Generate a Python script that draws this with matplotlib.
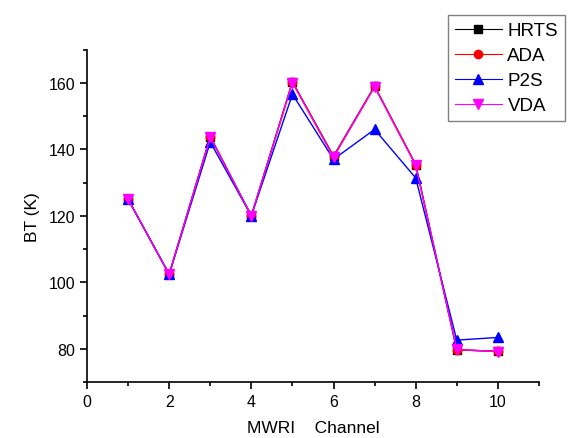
import matplotlib
matplotlib.use("Agg")
import matplotlib.pyplot as plt
from matplotlib.ticker import MultipleLocator

plt.rcParams['font.family'] = ['Liberation Sans', 'DejaVu Sans']

# data
channels = [1, 2, 3, 4, 5, 6, 7, 8, 9, 10]
hrts = [125.0, 102.4, 143.8, 120.0, 160.3, 137.9, 159.0, 135.4, 79.7, 79.2]
ada = [125.0, 102.4, 143.8, 120.0, 160.3, 137.9, 159.0, 135.4, 79.7, 79.2]
p2s = [125.0, 102.4, 142.2, 120.0, 156.6, 137.0, 146.0, 131.4, 82.6, 83.4]
vda = [125.0, 102.4, 143.6, 120.0, 160.1, 137.6, 158.8, 135.2, 79.8, 79.1]

fig = plt.figure(figsize=(5.82, 4.39), dpi=100)
ax = fig.add_axes([0.1495, 0.1276, 0.7765, 0.757])

ax.plot(channels, hrts, color='black', lw=1.0, marker='s', ms=6, label='HRTS')
ax.plot(channels, ada, color='red', lw=1.0, marker='o', ms=6, label='ADA')
ax.plot(channels, p2s, color='blue', lw=1.0, marker='^', ms=7, label='P2S')
ax.plot(channels, vda, color='magenta', lw=1.0, marker='v', ms=7, label='VDA')

ax.set_xlim(0, 11)
ax.set_ylim(70, 170)
ax.xaxis.set_major_locator(MultipleLocator(2))
ax.xaxis.set_minor_locator(MultipleLocator(1))
ax.yaxis.set_major_locator(MultipleLocator(20))
ax.yaxis.set_minor_locator(MultipleLocator(10))
ax.tick_params(which='both', direction='out', width=1.2, labelsize=11.5)
ax.tick_params(which='major', length=5)
ax.tick_params(which='minor', length=3)
for s in ['top', 'right']:
    ax.spines[s].set_visible(False)
for s in ['left', 'bottom']:
    ax.spines[s].set_linewidth(1.2)

ax.set_xlabel('MWRI    Channel', fontsize=12.5, labelpad=8)
ax.set_ylabel('BT (K)', fontsize=12.5, labelpad=6)

leg = ax.legend(loc='upper right', bbox_to_anchor=(574 / 582, 1 - 7 / 439),
                bbox_transform=fig.transFigure, fontsize=13.5, fancybox=False,
                framealpha=1, edgecolor='gray', handlelength=2.5,
                labelspacing=0.42, borderpad=0.35, handletextpad=0.3)
leg.get_frame().set_linewidth(1.0)
for h in leg.get_lines():
    h.set_linewidth(0.8)

fig.savefig('out.png', dpi=100)
